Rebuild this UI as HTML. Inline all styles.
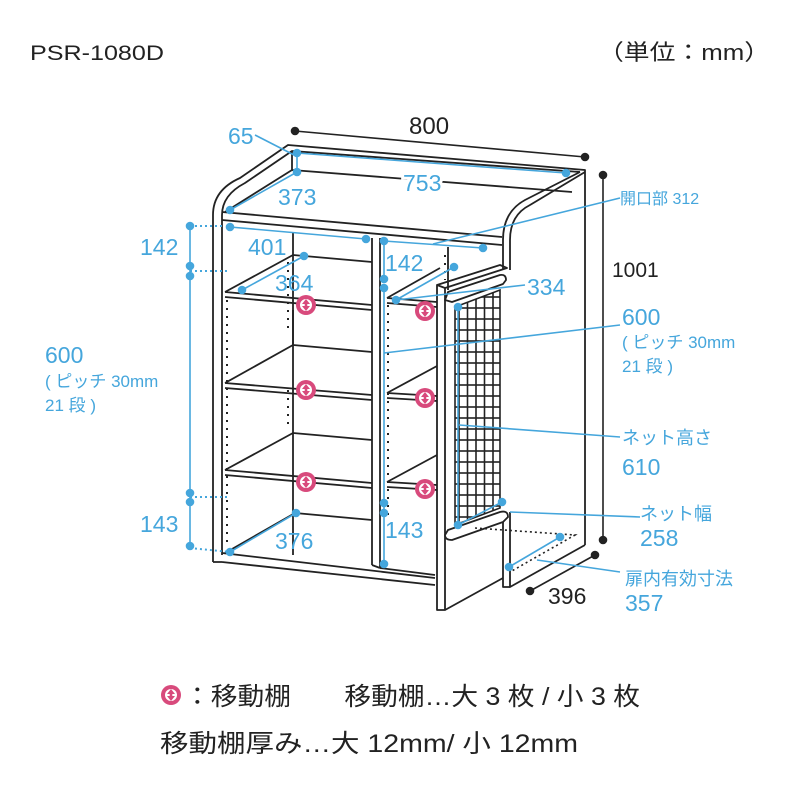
<!DOCTYPE html>
<html><head><meta charset="utf-8"><style>
html,body{margin:0;padding:0;background:#fff}
svg{display:block}
text{font-family:"Liberation Sans","Noto Sans CJK JP",sans-serif}
.b{fill:#45a6dc}
.k{fill:#222}
</style></head><body>
<svg width="800" height="800" viewBox="0 0 800 800" xmlns="http://www.w3.org/2000/svg">
<defs>
<g id="mv"><circle r="10" fill="#d84a7c"/><circle r="6" fill="#fff"/><path d="M0,-6 L-4,-1 L4,-1Z M0,6 L-4,1 L4,1Z" fill="#d84a7c"/><rect x="-1.3" y="-2" width="2.6" height="4" fill="#d84a7c"/></g>
<pattern id="grid" width="8.5" height="11" patternUnits="userSpaceOnUse"><rect width="8.5" height="11" fill="none" stroke="#222" stroke-width="1.6"/></pattern>
</defs>
<text x="30" y="60" font-size="21" class="k" textLength="134" lengthAdjust="spacingAndGlyphs">PSR-1080D</text>
<text x="598" y="60" font-size="22" class="k" textLength="172" lengthAdjust="spacingAndGlyphs">（単位：mm）</text>

<g fill="none" stroke="#222" stroke-width="1.8" stroke-linejoin="round">
<path d="M213,562 L213,215 Q213,190 240,178 L288,145 L585,170 L585,545"/>
<path d="M222,555 L222,215 Q222,195 245,183 L292,151 L580,172"/>
<path d="M292,151 L292,170"/>
<path d="M580,172 L525,200 Q503,212 503,240 L503,270"/>
<path d="M510,270 L510,240 Q510,215 530,205 L585,172"/>
<path d="M510,512 L510,587 L585,545"/>
<path d="M503,520 L503,587 L510,587"/>
<path d="M222,212 L502,237 M222,220 L502,245 M292,170 L572,192 M225,212 L292,170"/>
<path d="M293,232 L293,555 M448,247 L448,290"/>
<path d="M372,238 L372,565 M380,238 L380,568 M372,565 L380,568"/>
<path d="M222,553 L435,578 M222,562 L435,585 M213,562 L222,562 M380,568 L435,575 M225,553 L295,513 L372,520"/>
<path d="M225,292 L293,255 L372,262 M225,292 L372,305 M225,297 L372,310"/>
<path d="M225,383 L293,345 L372,352 M225,383 L372,395 M225,388 L372,400"/>
<path d="M225,470 L293,433 L372,440 M225,470 L372,483 M225,475 L372,488"/>
<path d="M293,310 L293,345"/>
<path d="M387,298 L440,268 M387,298 L437,302 M387,303 L437,307"/>
<path d="M387,393 L437,366 M387,393 L437,396 M387,398 L437,401"/>
<path d="M387,482 L437,455 M387,482 L437,485 M387,487 L437,490"/>
<path d="M437,285 L437,610 L445,610 L445,288 L437,285 Z" fill="#fff"/>
<path d="M437,285 L500,265 L507,268 L445,288"/>
<path d="M445,610 L503,578"/>
<path d="M445,300 L448,292 L500,275 Q506,274 506,280 L503,284 L452,302 Z" fill="#fff"/>
<path d="M445,535 L448,530 L500,512 Q508,510 508,517 L503,522 L452,540 Q445,540 445,535 Z" fill="#fff"/>
</g>
<path d="M455,307 L500,290 L500,508 L455,525 Z" fill="url(#grid)" stroke="#222" stroke-width="1.6"/>
<g stroke="#222" stroke-width="2" stroke-dasharray="2,6">
<line x1="227" y1="300" x2="227" y2="545"/>
<line x1="288" y1="262" x2="288" y2="330"/>
<line x1="288" y1="390" x2="288" y2="430"/>
<line x1="388" y1="305" x2="388" y2="520"/>
<line x1="445" y1="255" x2="445" y2="280"/>
</g>
<g stroke="#222" stroke-width="1.6" stroke-dasharray="2,3" fill="none">
<path d="M475,528 L575,535 L510,572"/>
</g>

<g stroke="#222" stroke-width="1.6" fill="#222">
<line x1="295" y1="131" x2="585" y2="157"/><circle cx="295" cy="131" r="3.5"/><circle cx="585" cy="157" r="3.5"/>
<line x1="603" y1="175" x2="603" y2="540"/><circle cx="603" cy="175" r="3.5"/><circle cx="603" cy="540" r="3.5"/>
<line x1="595" y1="555" x2="530" y2="591"/><circle cx="595" cy="555" r="3.5"/><circle cx="530" cy="591" r="3.5"/>
</g>
<text x="409" y="134" font-size="24" class="k">800</text>
<text x="612" y="277" font-size="21" class="k">1001</text>
<text x="548" y="604" font-size="23" class="k">396</text>

<g stroke="#45a6dc" stroke-width="1.6" fill="#45a6dc">
<line x1="255" y1="135" x2="296" y2="156"/>
<line x1="297" y1="153" x2="566" y2="173"/><circle cx="297" cy="153" r="3.5"/><circle cx="566" cy="173" r="3.5"/>
<line x1="297" y1="153" x2="297" y2="172"/><circle cx="297" cy="172" r="3.5"/>
<line x1="297" y1="172" x2="230" y2="210"/><circle cx="230" cy="210" r="3.5"/>
<line x1="230" y1="227" x2="366" y2="239"/><circle cx="230" cy="227" r="3.5"/><circle cx="366" cy="239" r="3.5"/>
<line x1="384" y1="241" x2="483" y2="248"/><circle cx="384" cy="241" r="3.5"/><circle cx="483" cy="248" r="3.5"/>
<line x1="304" y1="256" x2="242" y2="290"/><circle cx="304" cy="256" r="3.5"/><circle cx="242" cy="290" r="3.5"/>
<line x1="454" y1="267" x2="396" y2="300"/><circle cx="454" cy="267" r="3.5"/><circle cx="396" cy="300" r="3.5"/>
<line x1="384" y1="241" x2="384" y2="280"/><circle cx="384" cy="279" r="3.5"/><circle cx="384" cy="288" r="3.5"/>
<line x1="384" y1="288" x2="384" y2="565"/>
<circle cx="384" cy="503" r="3.5"/><circle cx="384" cy="513" r="3.5"/><circle cx="384" cy="564" r="3.5"/>
<line x1="396" y1="300" x2="525" y2="285"/>
<line x1="190" y1="226" x2="190" y2="548"/>
<circle cx="190" cy="226" r="3.5"/><circle cx="190" cy="266" r="3.5"/><circle cx="190" cy="276" r="3.5"/>
<circle cx="190" cy="493" r="3.5"/><circle cx="190" cy="502" r="3.5"/><circle cx="190" cy="546" r="3.5"/>
<line x1="296" y1="513" x2="230" y2="552"/><circle cx="296" cy="513" r="3.5"/><circle cx="230" cy="552" r="3.5"/>
<line x1="458" y1="307" x2="458" y2="525"/><circle cx="458" cy="307" r="3.5"/><circle cx="458" cy="525" r="3.5"/>
<line x1="458" y1="525" x2="502" y2="502"/><circle cx="502" cy="502" r="3.5"/>
<line x1="560" y1="537" x2="509" y2="567"/><circle cx="560" cy="537" r="3.5"/><circle cx="509" cy="567" r="3.5"/>
<line x1="433" y1="244" x2="620" y2="198"/>
<line x1="384" y1="353" x2="620" y2="325"/>
<line x1="459" y1="425" x2="620" y2="437"/>
<line x1="510" y1="512" x2="640" y2="517"/>
<line x1="537" y1="560" x2="620" y2="572"/>
</g>
<g stroke="#45a6dc" stroke-width="2" stroke-dasharray="2,3">
<line x1="190" y1="226" x2="222" y2="226"/>
<line x1="190" y1="271" x2="227" y2="271"/>
<line x1="190" y1="497" x2="227" y2="497"/>
<line x1="190" y1="548" x2="230" y2="552"/>
</g>
<g class="b" font-size="23">
<text x="228" y="144">65</text>
<text x="278" y="205">373</text>
<text x="403" y="191" style="paint-order:stroke" stroke="#fff" stroke-width="6">753</text>
<text x="248" y="255">401</text>
<text x="140" y="255">142</text>
<text x="385" y="271">142</text>
<text x="275" y="291">364</text>
<text x="527" y="295">334</text>
<text x="622" y="325">600</text>
<text x="45" y="363">600</text>
<text x="622" y="475">610</text>
<text x="140" y="532">143</text>
<text x="275" y="549">376</text>
<text x="385" y="538">143</text>
<text x="640" y="546">258</text>
<text x="625" y="611">357</text>
</g>
<g class="b" font-size="16">
<text x="620" y="204">開口部 312</text>
<text x="622" y="348" font-size="17">( ピッチ 30mm</text>
<text x="622" y="372" font-size="17">21 段 )</text>
<text x="45" y="387" font-size="17">( ピッチ 30mm</text>
<text x="45" y="411" font-size="17">21 段 )</text>
<text x="622" y="444" font-size="18">ネット高さ</text>
<text x="640" y="520" font-size="18">ネット幅</text>
<text x="625" y="585" font-size="18">扉内有効寸法</text>
</g>
<use href="#mv" x="306" y="305"/><use href="#mv" x="306" y="390"/><use href="#mv" x="306" y="482"/>
<use href="#mv" x="425" y="311"/><use href="#mv" x="425" y="398"/><use href="#mv" x="425" y="489"/>
<use href="#mv" x="171" y="695"/>
<text x="184" y="705" font-size="25" class="k" textLength="456" lengthAdjust="spacingAndGlyphs">：移動棚　　移動棚…大 3 枚 / 小 3 枚</text>
<text x="160" y="752" font-size="25" class="k" textLength="418" lengthAdjust="spacingAndGlyphs">移動棚厚み…大 12mm/ 小 12mm</text>
</svg>
</body></html>
